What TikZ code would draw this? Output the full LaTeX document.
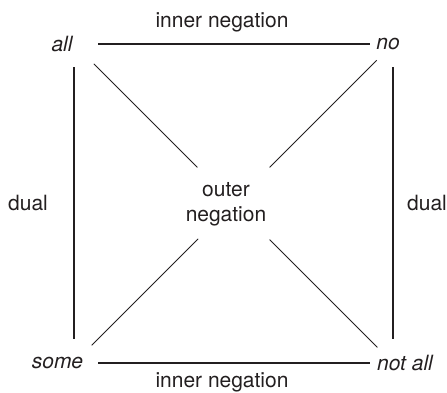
\documentclass[tikz,border=0pt]{standalone}
\usepackage{fontspec}
\setmainfont{TeX Gyre Heros}
\usetikzlibrary{positioning}
\definecolor{cink}{HTML}{231F20}
\tikzset{
  every picture/.style={font=\fontsize{21}{25}\selectfont, text=cink},
  quant/.style={font=\fontsize{21}{25}\selectfont\itshape, inner sep=0pt},
  note/.style={align=center, inner sep=0pt},
  rel/.style={draw=cink, line width=2.5pt},
  neg/.style={draw=cink, line width=0.8pt},
}
\begin{document}
\begin{tikzpicture}[x=1pt, y=-1pt]
  \useasboundingbox (0,0) rectangle (447,392);
  % corners of the square
  \coordinate (tl) at (74,44);
  \coordinate (tr) at (393,44);
  \coordinate (bl) at (74,363);
  \coordinate (br) at (393,363);
  \coordinate (mid) at (233.5,203.5);
  \node[quant] (all) at (62,44) {all};
  \node[quant] (no) at (388,44) {no};
  \node[quant] (some) at (57.5,363) {some};
  \node[quant] (notall) at (405,363) {not all};
  \node[note] (outer) at (226,204) {outer\\negation};
  \node[note] (dualL) at (28,203) {dual};
  \node[note] (dualR) at (427,203) {dual};
  \node[note] (innerT) at (222,22) {inner negation};
  \node[note] (innerB) at (222,382) {inner negation};
  \draw[rel, shorten <=24pt, shorten >=23pt] (tl) -- (tr);
  \draw[rel, shorten <=24pt, shorten >=23pt] (bl) -- (br);
  \draw[rel, shorten <=23pt, shorten >=24pt] (tl) -- (bl);
  \draw[rel, shorten <=23pt, shorten >=24pt] (tr) -- (br);
  \draw[neg, shorten <=28pt, shorten >=51pt] (tl) -- (mid);
  \draw[neg, shorten <=23pt, shorten >=51pt] (tr) -- (mid);
  \draw[neg, shorten <=25pt, shorten >=50pt] (bl) -- (mid);
  \draw[neg, shorten <=22pt, shorten >=51pt] (br) -- (mid);
\end{tikzpicture}
\end{document}
